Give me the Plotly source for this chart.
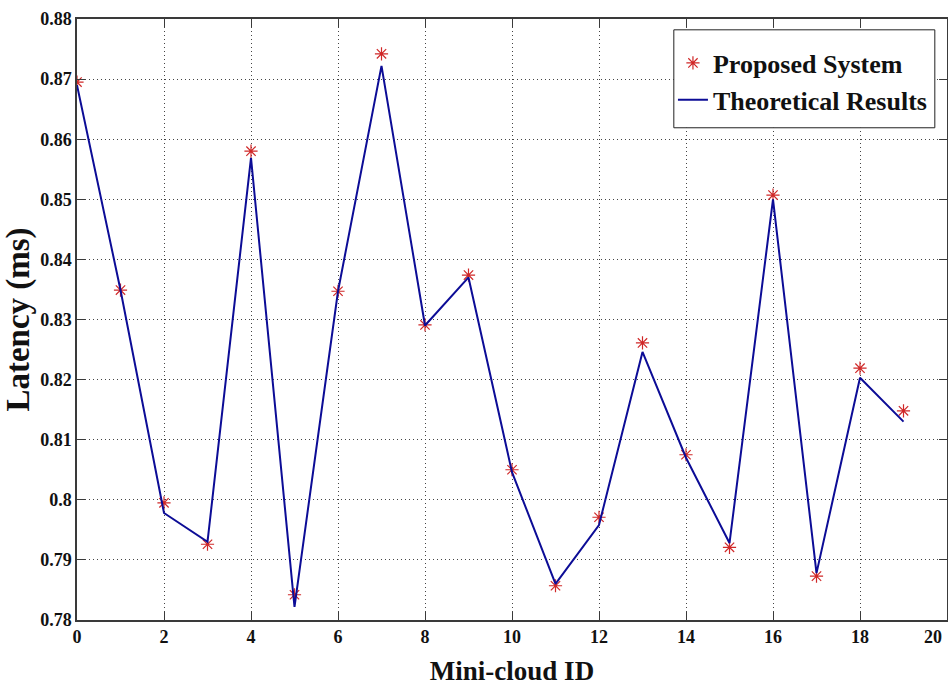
import plotly.graph_objects as go

mini_cloud_id = list(range(20))
proposed_system = [0.8695, 0.8349, 0.7995, 0.7926, 0.8580, 0.7842, 0.8347, 0.8742, 0.8291, 0.8374,
                   0.8050, 0.7857, 0.7971, 0.8261, 0.8075, 0.7921, 0.8507, 0.7873, 0.8219, 0.8148]
theoretical_results = [0.8690, 0.8349, 0.7978, 0.7930, 0.8569, 0.7822, 0.8347, 0.8722, 0.8290, 0.8370,
                       0.8046, 0.7860, 0.7958, 0.8246, 0.8070, 0.7928, 0.8500, 0.7878, 0.8203, 0.8130]
x_ticks = [0, 2, 4, 6, 8, 10, 12, 14, 16, 18, 20]
x_tick_text = ["0", "2", "4", "6", "8", "10", "12", "14", "16", "18", "20"]
y_ticks = [0.78, 0.79, 0.80, 0.81, 0.82, 0.83, 0.84, 0.85, 0.86, 0.87, 0.88]
y_tick_text = ["0.78", "0.79", "0.8", "0.81", "0.82", "0.83", "0.84", "0.85", "0.86", "0.87", "0.88"]

FONT = "Liberation Serif, Times New Roman, serif"
TICKFONT = dict(family=FONT, size=18, color="#111", weight="bold")

fig = go.Figure()
fig.add_trace(go.Scatter(
    x=mini_cloud_id, y=proposed_system, mode="markers", name="Proposed System",
    marker=dict(symbol="asterisk-open", size=11, color="#d02828", line=dict(color="#d02828", width=1.2)),
))
fig.add_trace(go.Scatter(
    x=mini_cloud_id, y=theoretical_results, mode="lines", name="Theoretical Results",
    line=dict(color="#0c0c96", width=2),
))

axis_common = dict(
    showline=True, linecolor="#3a3a3a", linewidth=1.5, mirror="allticks",
    ticks="inside", ticklen=8, tickcolor="#3a3a3a",
    showgrid=True, gridcolor="#444", griddash="1px,3px", gridwidth=1,
    zeroline=False, automargin=False,
    tickfont=TICKFONT,
)

# last x tick label sits at the figure's right edge: the axis keeps the tick, the label is drawn
# right-aligned to it so it stays inside the page (as in the reference)
fig.update_xaxes(range=[0, 20], tickvals=x_ticks, ticktext=x_tick_text[:-1] + [""], **axis_common,
                 title=dict(text="Mini-cloud ID", font=dict(family=FONT, size=27, color="#111", weight="bold"),
                            standoff=15))
fig.update_yaxes(range=[0.78, 0.88], tickvals=y_ticks, ticktext=y_tick_text, **axis_common,
                 title=dict(text="Latency (ms)", font=dict(family=FONT, size=33, color="#111", weight="bold"),
                            standoff=1))

fig.add_annotation(x=x_ticks[-1], xref="x", y=0, yref="paper", text=x_tick_text[-1],
                   xanchor="right", yanchor="top", xshift=-3, yshift=-5, showarrow=False,
                   font=TICKFONT)

# legend frame
fig.add_shape(type="rect", xref="paper", yref="paper", x0=0.686, x1=0.986, y0=0.819, y1=0.982,
              line=dict(color="#222", width=1), fillcolor="white", layer="above")

fig.update_layout(
    width=948, height=690,
    margin=dict(l=77, r=1, t=19, b=70),
    plot_bgcolor="white", paper_bgcolor="white",
    showlegend=True,
    legend=dict(
        x=0.685, y=0.896, xanchor="left", yanchor="middle",
        bgcolor="rgba(0,0,0,0)", borderwidth=0,
        font=dict(family=FONT, size=26, color="#111", weight="bold"),
        itemwidth=30, tracegroupgap=0,
    ),
)

fig.write_html("out.html", config={"displayModeBar": False},
               post_script="document.body.style.margin='0';document.body.style.overflow='hidden';")
